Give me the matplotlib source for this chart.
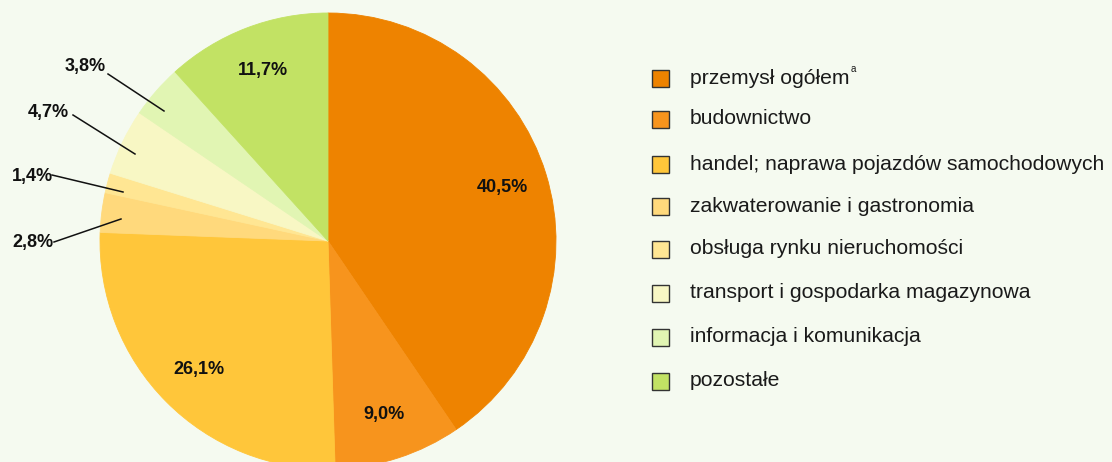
import numpy as np
import matplotlib.pyplot as plt
from matplotlib.patches import Rectangle

W, H = 1112, 462

labels = ["przemysł ogółem", "budownictwo", "handel; naprawa pojazdów samochodowych",
          "zakwaterowanie i gastronomia", "obsługa rynku nieruchomości",
          "transport i gospodarka magazynowa", "informacja i komunikacja", "pozostałe"]
values = [40.5, 9.0, 26.1, 2.8, 1.4, 4.7, 3.8, 11.7]
value_text = ["40,5%", "9,0%", "26,1%", "2,8%", "1,4%", "4,7%", "3,8%", "11,7%"]
colors = ["#EE8300", "#F7941D", "#FFC63A", "#FFD97C", "#FFE693", "#F8F7C4", "#E1F5B3", "#C2E264"]

# labels placed outside the pie (index -> text centre in pixels)
outside = {3: (33, 243), 4: (32, 176), 5: (48, 113), 6: (85, 66)}
line_start = {3: (54, 242), 4: (52, 175), 5: (73, 115), 6: (108, 74)}
line_end = {3: (121, 219), 4: (123, 192), 5: (135, 154), 6: (164, 111)}

bg = "#F5FAF0"
cx, cy, R = 328, H - 241, 228

fig = plt.figure(figsize=(W / 100, H / 100), dpi=100, facecolor=bg)
ax = fig.add_axes([0, 0, 1, 1])
ax.set_facecolor(bg)

wedges, _ = ax.pie(values, colors=colors, startangle=90, counterclock=False,
                   center=(cx, cy), radius=R, wedgeprops=dict(linewidth=0.6))
for w, c in zip(wedges, colors):
    w.set_edgecolor(c)
ax.set_xlim(0, W)
ax.set_ylim(0, H)
ax.set_aspect("auto")
ax.axis("off")

font = "Liberation Sans"
for i, w in enumerate(wedges):
    ang = np.deg2rad((w.theta1 + w.theta2) / 2)
    if i in outside:
        tx, ty = outside[i]
        ax.text(tx, H - ty, value_text[i], ha="center", va="center",
                fontsize=13, fontweight="bold", family=font, color="#111111")
        sx, sy = line_start[i]
        ex, ey = line_end[i]
        ax.plot([sx, ex], [H - sy, H - ey], color="#111111", lw=1.1)
    else:
        ax.text(cx + 0.8 * R * np.cos(ang), cy + 0.8 * R * np.sin(ang), value_text[i],
                ha="center", va="center", fontsize=13, fontweight="bold",
                family=font, color="#111111")

# legend
rows = [78, 119, 164, 206, 249, 293, 337, 381]
for lab, col, y in zip(labels, colors, rows):
    ax.add_patch(Rectangle((652, H - y - 9), 17, 17, facecolor=col,
                           edgecolor="#333333", lw=1))
    t = ax.text(690, H - y, lab, ha="left", va="center", fontsize=15.2,
                family=font, color="#1a1a1a")
    if lab == "przemysł ogółem":
        fig.canvas.draw()
        bb = t.get_window_extent()
        ax.text(bb.x1 + 1, H - y + 9, "a", ha="left", va="center", fontsize=7,
                family=font, color="#1a1a1a")

fig.savefig("out.png", dpi=100, facecolor=bg)
